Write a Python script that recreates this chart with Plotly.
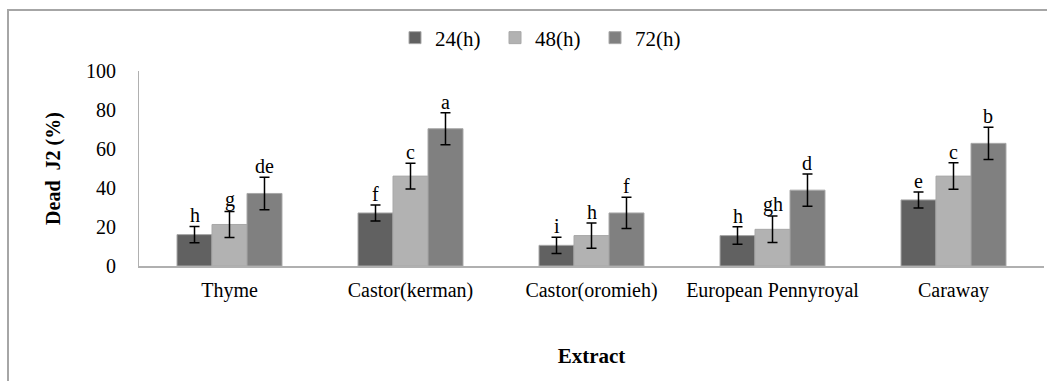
import plotly.graph_objects as go

categories = ["Thyme", "Castor(kerman)", "Castor(oromieh)", "European Pennyroyal", "Caraway"]
series_names = ["24(h)", "48(h)", "72(h)"]
values_24 = [16.1, 27.2, 10.6, 15.6, 33.9]
values_48 = [21.3, 46.1, 15.6, 18.8, 46.1]
values_72 = [37.2, 70.4, 27.2, 38.9, 62.9]
err_24 = [4.2, 4.1, 4.2, 4.5, 4.1]
err_48 = [6.7, 6.6, 6.5, 6.8, 6.8]
err_72 = [8.3, 8.2, 8.0, 8.3, 8.3]
letters_24 = ["h", "f", "i", "h", "e"]
letters_48 = ["g", "c", "h", "gh", "c"]
letters_72 = ["de", "a", "f", "d", "b"]
y_ticks = [0, 20, 40, 60, 80, 100]

colors = ["#616161", "#b2b2b2", "#808080"]
FONT = "Times New Roman, Liberation Serif, serif"
BARGAP = 0.42

series = [
    (values_24, err_24, letters_24),
    (values_48, err_48, letters_48),
    (values_72, err_72, letters_72),
]

fig = go.Figure()
annotations = []
for i, (vals, errs, letters) in enumerate(series):
    fig.add_trace(go.Bar(
        x=categories, y=vals, name=series_names[i],
        marker=dict(color=colors[i], line=dict(color="#a8a8a8", width=1)),
        error_y=dict(type="data", array=errs, visible=True, color="#000000",
                     thickness=1.5, width=5),
    ))
    offset = (i - 1) * (1 - BARGAP) / 3
    for j, (v, e, l) in enumerate(zip(vals, errs, letters)):
        annotations.append(dict(
            x=j + offset, y=v + e, xref="x", yref="y", text=l, showarrow=False,
            yanchor="bottom", xanchor="center", yshift=-2,
            font=dict(family=FONT, size=20, color="#000000"),
        ))

L, R, T, B = 139, 3, 71, 115
W, H = 1047, 381
pw = W - L - R
ph = H - T - B

def px_to_paper_x(px):
    return (px - L) / pw

def px_to_paper_y(py):
    return (H - B - py) / ph

fig.update_layout(
    width=W, height=H,
    margin=dict(l=L, r=R, t=T, b=B, autoexpand=False),
    paper_bgcolor="white", plot_bgcolor="white",
    barmode="group", bargap=BARGAP, bargroupgap=0,
    font=dict(family=FONT, size=20, color="#000000"),
    showlegend=True,
    legend=dict(orientation="h", x=px_to_paper_x(545), xanchor="center",
                y=px_to_paper_y(38), yanchor="middle",
                font=dict(family=FONT, size=21, color="#000000"),
                bgcolor="rgba(0,0,0,0)", itemwidth=30, traceorder="normal",
                entrywidth=55, entrywidthmode="pixels"),
    xaxis=dict(
        type="category", showgrid=False, zeroline=False,
        showline=True, linecolor="#b0b0b0", linewidth=2,
        ticks="", ticklabelstandoff=5,
        tickfont=dict(family=FONT, size=20, color="#000000"),
        title=dict(text="<b>Extract</b>", standoff=47,
                   font=dict(family=FONT, size=21, color="#000000")),
        automargin=False,
    ),
    yaxis=dict(
        range=[0, 100], tickvals=y_ticks, showgrid=False, zeroline=False,
        showline=True, linecolor="#b0b0b0", linewidth=1,
        ticks="", ticklabelstandoff=18,
        tickfont=dict(family=FONT, size=20, color="#000000"),
        title=dict(text="<b>Dead  J2 (%)</b>", standoff=20,
                   font=dict(family=FONT, size=20, color="#000000")),
        automargin=False,
    ),
    annotations=annotations,
    shapes=[dict(type="rect", xref="paper", yref="paper",
                 x0=px_to_paper_x(8), x1=px_to_paper_x(1070),
                 y0=px_to_paper_y(400), y1=px_to_paper_y(10),
                 line=dict(color="#a6a6a6", width=2), fillcolor="rgba(0,0,0,0)",
                 layer="below")],
)

fig.write_html("out.html")
